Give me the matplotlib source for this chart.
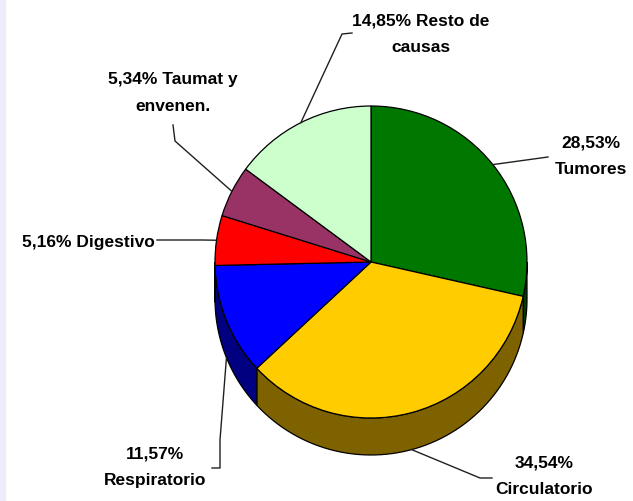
import numpy as np
import matplotlib.pyplot as plt
from matplotlib.patches import Polygon, Rectangle

# Defunciones por causa (%)
causas = ['Tumores', 'Circulatorio', 'Respiratorio', 'Digestivo', 'Taumat y\nenvenen.', 'Resto de\ncausas']
porcentajes = [28.53, 34.54, 11.57, 5.16, 5.34, 14.85]
colores = ['#007800', '#FFCC00', '#0000FF', '#FF0000', '#993366', '#CCFFCC']
colores_lado = ['#003C00', '#7F6200', '#000080', '#800000', '#4C1933', '#667F66']
# percentage on its own line or inline with the name
en_linea = [False, False, False, True, True, True]

W, H = 633, 501
cx, cy, R = 371, H - 262, 156
prof = 37  # grosor del pastel

fig = plt.figure(figsize=(W / 100, H / 100), dpi=100)
fig.patch.set_facecolor('white')
fig.patches.append(Rectangle((0, 0), 5 / W, 1, transform=fig.transFigure,
                             color='#ECECFA', zorder=0))
ax = fig.add_axes([0, 0, 1, 1])

# angulos de cada porcion (sentido horario desde arriba)
fracs = np.array(porcentajes) / sum(porcentajes)
fin = 90 - 360 * np.cumsum(fracs)
ini = np.concatenate([[90], fin[:-1]])
medio = ((ini + fin) / 2 + 180) % 360 - 180

# cara lateral, solo la mitad inferior es visible
for a0, a1, col in zip(ini, fin, colores_lado):
    lo, hi = max(a1, -180), min(a0, 0)
    if lo >= hi:
        continue
    t = np.radians(np.linspace(hi, lo, 60))
    xs = cx + R * np.cos(t)
    ys = cy + R * np.sin(t)
    pts = np.column_stack([np.concatenate([xs, xs[::-1]]),
                           np.concatenate([ys, ys[::-1] - prof])])
    ax.add_patch(Polygon(pts, closed=True, facecolor=col, edgecolor='black',
                         linewidth=0.9, zorder=1))

ax.pie(porcentajes, colors=colores, startangle=90, counterclock=False,
       center=(cx, cy), radius=R, normalize=True,
       wedgeprops=dict(edgecolor='black', linewidth=0.9, zorder=2))

# etiquetas con lineas guia
txt_pos = [(591, H - 156), (544, H - 476), (155, H - 467),
           (155, H - 242), (173, H - 93), (421, H - 34)]
txt_ha = ['center', 'center', 'center', 'right', 'center', 'center']
codos = [[(548, H - 157)],
         [(492, H - 478), (480, H - 478)],
         [(212, H - 468), (220, H - 468), (220, H - 440)],
         [(157, H - 240), (202, H - 240)],
         [(173, H - 125), (175, H - 141)],
         [(352, H - 33), (342, H - 34)]]

for nombre, p, linea, pos, ha, codo, m in zip(causas, porcentajes, en_linea,
                                              txt_pos, txt_ha, codos, medio):
    pct = f'{p:.2f}'.replace('.', ',') + '%'
    texto = f'{pct} {nombre}' if linea else f'{pct}\n{nombre}'
    ax.text(pos[0], pos[1], texto, ha=ha, va='center', multialignment='center',
            fontsize=12.5, fontweight='bold', linespacing=1.95,
            family=['Liberation Sans', 'DejaVu Sans'],
            color='black', zorder=5)
    ex = cx + R * np.cos(np.radians(m))
    ey = cy + R * np.sin(np.radians(m))
    if m < 0:
        ey -= prof
    xs = [c[0] for c in codo] + [ex]
    ys = [c[1] for c in codo] + [ey]
    ax.plot(xs, ys, color='#202020', linewidth=1.0, zorder=4)

ax.set_xlim(0, W)
ax.set_ylim(0, H)
ax.set_aspect('equal')
ax.axis('off')

fig.savefig('out.png', dpi=100)
